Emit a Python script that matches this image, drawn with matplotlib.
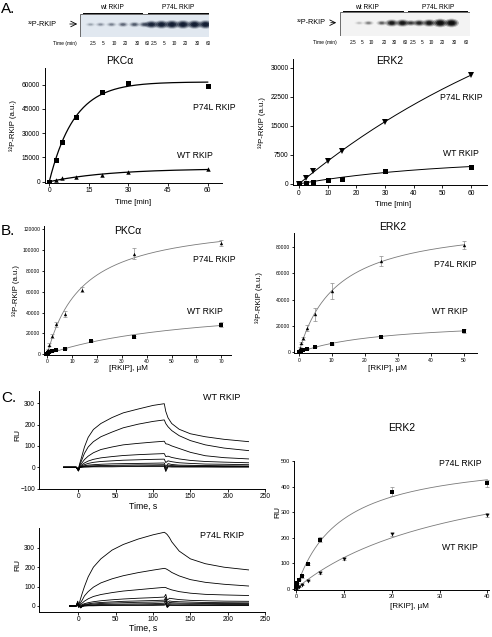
import numpy as np
import matplotlib.pyplot as plt
from matplotlib.patches import Ellipse, Rectangle

plt.rcParams['font.family'] = ['Liberation Sans', 'DejaVu Sans']

W, H = 492, 637

# ---------------- data ----------------
gel_lanes = ['2.5', '5', '10', '20', '30', '60']
pkc_gel_wt = [0.15, 0.2, 0.25, 0.35, 0.4, 0.45]
pkc_gel_p74l = [0.85, 0.95, 1.0, 1.0, 1.0, 1.0]
erk_gel_wt = [0.0, 0.1, 0.25, 0.35, 0.75, 0.8]
erk_gel_p74l = [0.5, 0.65, 0.8, 1.0, 1.0, 0.0]

# A: time course
time_min = [0, 2.5, 5, 10, 20, 30, 60]
pkc_p74l = [0, 13400, 24300, 39700, 55400, 61100, 59100]
pkc_wt = [0, 1200, 2100, 3100, 4100, 6000, 7650]
erk_time = [0, 2.5, 5, 10, 15, 30, 60]
erk_p74l = [0, 1500, 3250, 5970, 8450, 16050, 28150]
erk_wt = [0, 300, 600, 1020, 1360, 3400, 4350]

# B: concentration dependence
bpkc_p74l_c = [0, 0.22, 0.44, 0.875, 1.75, 3.5, 7, 14, 35, 70]
bpkc_p74l_v = [0, 2500, 4500, 9000, 17500, 28700, 38600, 62000, 96500, 106500]
bpkc_p74l_e = [0, 0, 500, 1500, 2000, 2500, 3000, 2800, 5500, 2800]
bpkc_wt_c = [0, 0.44, 0.875, 1.75, 3.5, 7, 17.5, 35, 70]
bpkc_wt_v = [0, 1200, 2200, 3000, 4200, 5500, 12500, 16500, 28500]
bpkc_wt_e = [0, 0, 0, 300, 400, 500, 800, 1000, 2800]

berk_p74l_c = [0, 0.156, 0.3125, 0.625, 1.25, 2.5, 5, 10, 25, 50]
berk_p74l_v = [0, 2000, 3500, 6900, 10700, 18800, 28800, 46400, 69300, 81000]
berk_p74l_e = [0, 0, 500, 800, 1000, 2300, 4800, 6300, 3800, 3000]
berk_wt_c = [0, 0.625, 1.25, 2.5, 5, 10, 25, 50]
berk_wt_v = [0, 1200, 1800, 2800, 4400, 6200, 11900, 16500]
berk_wt_e = [0, 0, 0, 300, 400, 500, 700, 1500]

# C: SPR sensorgrams (RU read at the listed times)
sg_t_wt = [-20, -3, 0, 1.5, 4, 8, 13, 20, 30, 45, 60, 80, 100, 115, 117, 120, 125, 135, 150, 170, 195, 228]
sg_wt = [
    [0, 0, -8, 15, 45, 95, 140, 177, 205, 233, 255, 273, 290, 298, 262, 232, 205, 178, 157, 143, 131, 120],
    [0, 0, -8, 10, 30, 65, 95, 120, 143, 165, 185, 202, 215, 222, 205, 190, 172, 148, 125, 105, 90, 78],
    [0, 0, -10, 6, 17, 36, 52, 68, 83, 95, 105, 112, 118, 122, 110, 108, 100, 88, 70, 54, 45, 39],
    [0, 0, -12, 3, 10, 20, 29, 37, 44, 50, 55, 59, 62, 64, 50, 52, 46, 39, 32, 27, 24, 21],
    [0, 0, -14, 2, 6, 12, 18, 23, 27, 30, 33, 35, 37, 38, 22, 30, 26, 21, 18, 15, 14, 12],
    [0, 0, -15, 1, 3, 7, 10, 12, 14, 16, 17, 18, 19, 20, 2, 17, 13, 10, 9, 8, 7, 6],
    [0, 0, -16, 0, 2, 4, 6, 7, 8, 9, 10, 11, 11, 12, -6, 10, 8, 6, 5, 5, 4, 4],
    [0, 0, -17, -1, 1, 2, 3, 4, 5, 5, 6, 6, 7, 7, -14, 5, 4, 3, 3, 3, 2, 2],
    [0, 0, -18, -2, 0, 1, 1, 2, 2, 2, 3, 3, 3, 3, -20, 2, 1, 1, 1, 1, 1, 1],
]
sg_t_p74l = [-12, -3, -1, 0, 1.5, 3, 5, 8, 13, 20, 30, 45, 60, 80, 100, 115, 117, 119, 122, 125, 135, 150, 170, 195, 228]
sg_p74l = [
    [0, 0, 8, -4, 20, 40, 65, 100, 150, 200, 243, 288, 317, 345, 367, 380, 375, 368, 352, 331, 283, 243, 218, 200, 186],
    [0, 0, 10, -5, 8, 18, 30, 52, 74, 97, 119, 140, 156, 172, 185, 194, 192, 188, 181, 173, 155, 136, 122, 112, 103],
    [0, 0, 12, -6, 4, 9, 15, 25, 37, 49, 59, 69, 77, 84, 91, 96, 95, 91, 87, 83, 74, 66, 60, 57, 54],
    [0, 0, 15, -6, 2, 4, 7, 12, 17, 22, 27, 32, 36, 40, 43, 46, 60, 30, 40, 38, 33, 29, 27, 25, 24],
    [0, 0, 18, -5, 1, 0, 4, 8, 11, 15, 18, 21, 24, 26, 28, 30, 45, 18, 26, 24, 22, 20, 18, 17, 16],
    [0, 0, 22, -4, 0, -4, 2, 5, 8, 10, 13, 15, 17, 19, 20, 22, 35, 8, 19, 17, 15, 14, 13, 13, 12],
    [0, 0, 25, -3, -2, -7, 0, 3, 5, 6, 8, 9, 10, 11, 12, 14, 25, 0, 12, 11, 10, 9, 9, 8, 8],
    [0, 0, 20, -2, -3, -9, -2, 1, 2, 3, 4, 5, 6, 6, 7, 8, 15, -5, 7, 6, 5, 5, 4, 4, 4],
    [0, 0, 15, -1, -4, -10, -3, 0, 1, 1, 2, 2, 3, 3, 3, 4, 8, -8, 3, 3, 2, 2, 2, 2, 2],
]

# C: ERK2 steady-state binding
cerk_p74l_c = [0, 0.04, 0.08, 0.16, 0.31, 0.63, 1.25, 2.5, 5, 20, 40]
cerk_p74l_v = [0, 3, 7, 12, 22, 35, 48, 97, 193, 380, 413]
cerk_p74l_e = [0, 0, 0, 0, 0, 2, 4, 5, 8, 18, 15]
cerk_wt_c = [0, 0.31, 0.63, 1.25, 2.5, 5, 10, 20, 40]
cerk_wt_v = [0, 4, 8, 15, 32, 62, 118, 213, 288]
cerk_wt_e = [0, 0, 0, 0, 2, 3, 4, 6, 6]


# ---------------- helpers ----------------
def fit_hyperbola(x, y):
    x = np.asarray(x, float); y = np.asarray(y, float)
    best = None
    for k in np.linspace(0.2, 300, 3000):
        f = x / (k + x)
        vmax = f @ y / (f @ f)
        sse = np.sum((y - vmax * f) ** 2)
        if best is None or sse < best[0]:
            best = (sse, vmax, k)
    return best[1], best[2]


def fit_rise(t, y):
    t = np.asarray(t, float); y = np.asarray(y, float)
    best = None
    for k in np.linspace(0.001, 1.0, 3000):
        f = 1 - np.exp(-k * t)
        a = f @ y / (f @ f)
        sse = np.sum((y - a * f) ** 2)
        if best is None or sse < best[0]:
            best = (sse, a, k)
    return best[1], best[2]


def px_axes(x0, y0, x1, y1):
    return fig.add_axes([x0 / W, 1 - y1 / H, (x1 - x0) / W, (y1 - y0) / H])


def ftext(x, y, s, size, **kw):
    kw.setdefault('ha', 'center')
    kw.setdefault('va', 'center')
    fig.text(x / W, 1 - y / H, s, fontsize=size, **kw)


def style(ax, fs, tl=2.2):
    for s in ['top', 'right']:
        ax.spines[s].set_visible(False)
    for s in ['left', 'bottom']:
        ax.spines[s].set_linewidth(0.7)
    ax.tick_params(labelsize=fs, length=tl, width=0.6, pad=1.2)
    ax.patch.set_alpha(0)


def draw_gel(box, lane_x, wt, p74l, bg, band_col, band_y):
    x0, y0, x1, y1 = box
    ax = px_axes(x0, y0, x1, y1)
    ax.set_xlim(x0, x1); ax.set_ylim(y1, y0)
    ax.axis('off')
    ax.add_patch(Rectangle((x0, y0), x1 - x0, y1 - y0, fc=bg, ec='#555555', lw=0.6))
    for xs, vals in [(lane_x[:6], wt), (lane_x[6:], p74l)]:
        for x, v in zip(xs, vals):
            if v <= 0:
                continue
            w, h = 8 + 5 * v, 3 + 4.5 * v
            for sc, a in [(1.15, 0.25), (0.9, 0.45), (0.65, 0.75), (0.4, 1.0)]:
                ax.add_patch(Ellipse((x - 2.5, band_y), w * sc, h * sc, fc=band_col, ec='none',
                                     alpha=min(1, v * a)))
    return ax


fig = plt.figure(figsize=(W / 100, H / 100), dpi=100)

# ---------------- A: gels ----------------
pkc_lane_x = [93, 103, 114, 125.5, 137, 147, 154, 164, 174.5, 185.5, 197, 208]
draw_gel((80, 13.5, 209, 37), pkc_lane_x, pkc_gel_wt, pkc_gel_p74l, '#e1e8f0', '#121d33', 24.5)
erk_lane_x = [352.7, 361.7, 371, 384.3, 394.3, 405, 413.3, 421.7, 431.7, 442.7, 454, 466.7]
draw_gel((339.5, 12, 470, 36), erk_lane_x, erk_gel_wt, erk_gel_p74l, '#f3f3f3', '#0d0d0d', 23)

for (lx0, lx1, ly, tx, txt) in [(82.7, 141.7, 12.5, 112, 'wt RKIP'), (148, 208, 12.5, 178, 'P74L RKIP'),
                                 (342.7, 403.3, 11, 367, 'wt RKIP'), (408.3, 466.7, 11, 438, 'P74L RKIP')]:
    fig.add_artist(plt.Line2D([lx0 / W, lx1 / W], [1 - ly / H, 1 - ly / H], color='black', lw=0.7))
    ftext(tx, 7.3, txt, 4.8)

for x, lab in zip(pkc_lane_x, gel_lanes * 2):
    ftext(x, 43.3, lab, 3.4)
for x, lab in zip(erk_lane_x, gel_lanes * 2):
    ftext(x, 42.7, lab, 3.4)
ftext(65, 43.3, 'Time (min)', 3.6)
ftext(325, 42.7, 'Time (min)', 3.6)

ftext(42, 24, '³²P-RKIP', 5.2)
fig.add_artist(plt.Annotation('', xy=(80 / W, 1 - 24 / H), xytext=(67 / W, 1 - 24 / H),
                              xycoords='figure fraction', arrowprops=dict(arrowstyle='->', lw=0.6)))
ftext(311, 22.7, '³²P-RKIP', 5.2)
fig.add_artist(plt.Annotation('', xy=(339 / W, 1 - 22.7 / H), xytext=(328 / W, 1 - 22.7 / H),
                              xycoords='figure fraction', arrowprops=dict(arrowstyle='->', lw=0.6)))

# ---------------- A: time courses ----------------
ax = px_axes(45, 68.3, 221.7, 182.7)
style(ax, 4.8)
tt = np.linspace(0, 60, 200)
for y, m, ms in [(pkc_p74l, 's', 3.6), (pkc_wt, '^', 3.2)]:
    a, k = fit_rise(time_min, y)
    ax.plot(tt, a * (1 - np.exp(-k * tt)), color='black', lw=0.9)
    ax.plot(time_min, y, m, color='black', ms=ms, mew=0)
ax.set_xlim(-1.6, 65.3); ax.set_ylim(-600, 70000)
ax.set_xticks([0, 15, 30, 45, 60]); ax.set_yticks([0, 15000, 30000, 45000, 60000])
ftext(120, 61, 'PKCα', 7.5)
ftext(214, 107, 'P74L RKIP', 6.2)
ftext(195, 155, 'WT RKIP', 6.2)
ftext(133, 203, 'Time [min]', 5.6)
ftext(13, 125, '³²P-RKIP (a.u.)', 5.6, rotation=90)

ax = px_axes(293.3, 59, 486.7, 185)
style(ax, 4.8)
for y, m, ms in [(erk_p74l, 'v', 3.8), (erk_wt, 's', 3.6)]:
    a, k = fit_rise(erk_time, y)
    ax.plot(tt, a * (1 - np.exp(-k * tt)), color='black', lw=0.7)
    ax.plot(erk_time, y, m, color='black', ms=ms, mew=0)
ax.set_xlim(-2, 65.5); ax.set_ylim(-300, 32300)
ax.set_xticks(range(0, 61, 10)); ax.set_yticks([0, 7500, 15000, 22500, 30000])
ftext(390, 61, 'ERK2', 7.5)
ftext(461, 97, 'P74L RKIP', 6.2)
ftext(461, 153, 'WT RKIP', 6.2)
ftext(393, 205, 'Time [min]', 5.6)
ftext(262, 122, '³²P-RKIP (a.u.)', 5.6, rotation=90)


# ---------------- B ----------------
def conc_panel(rect, xlim, ylim, xt, yt, series, fs, ms):
    ax = px_axes(*rect)
    style(ax, fs, tl=1.8)
    for c, v, e, m in series:
        vmax, k = fit_hyperbola(c, v)
        xx = np.linspace(0, max(c), 200)
        ax.plot(xx, vmax * xx / (k + xx), color='#7a7a7a', lw=0.6)
        ax.errorbar(c, v, yerr=e, fmt='none', ecolor='#8a8a8a', elinewidth=0.5, capsize=1.5, capthick=0.5)
        ax.plot(c, v, m, color='black', ms=ms, mew=0)
    ax.set_xlim(*xlim); ax.set_ylim(*ylim)
    ax.set_xticks(xt); ax.set_yticks(yt)
    return ax


conc_panel((44.3, 226.2, 231.3, 355.3), (-1.2, 74), (-1000, 122700), range(0, 71, 10), range(0, 120001, 20000),
           [(bpkc_p74l_c, bpkc_p74l_v, bpkc_p74l_e, '^'), (bpkc_wt_c, bpkc_wt_v, bpkc_wt_e, 's')], 3.6, 2.4)
ftext(128, 231, 'PKCα', 7.5)
ftext(214, 260, 'P74L RKIP', 6.2)
ftext(205, 311, 'WT RKIP', 6.2)
ftext(128, 369, '[RKIP], µM', 5.8)
ftext(16, 290, '³²P-RKIP (a.u.)', 5.6, rotation=90)

conc_panel((294.3, 233.3, 476.7, 353.4), (-1.4, 54), (-700, 90000), range(0, 51, 10), range(0, 80001, 20000),
           [(berk_p74l_c, berk_p74l_v, berk_p74l_e, '^'), (berk_wt_c, berk_wt_v, berk_wt_e, 's')], 3.6, 2.4)
ftext(393, 227, 'ERK2', 7.5)
ftext(455, 264, 'P74L RKIP', 6.2)
ftext(450, 312, 'WT RKIP', 6.2)
ftext(387, 368, '[RKIP], µM', 5.8)
ftext(259, 297, '³²P-RKIP (a.u.)', 5.6, rotation=90)

# ---------------- C: sensorgrams ----------------
for rect, ylim, yt, tgrid, curves, lab, laby, xly in [
        ((39.3, 390.9, 265, 489), (-102, 358), [-100, 0, 100, 200, 300], sg_t_wt, sg_wt, 'WT RKIP', 398, 506),
        ((39.3, 528.4, 265, 612), (-31, 400), [0, 100, 200, 300], sg_t_p74l, sg_p74l, 'P74L RKIP', 535, 628)]:
    ax = px_axes(*rect)
    style(ax, 4.8, tl=1.8)
    for c in curves:
        ax.plot(tgrid, c, color='black', lw=0.6)
    ax.set_xlim(-52.5, 250); ax.set_ylim(*ylim)
    ax.set_xticks([0, 50, 100, 150, 200, 250]); ax.set_yticks(yt)
    ftext(222, laby, lab, 6.5)
    ftext(143, xly, 'Time, s', 6.3)
    ftext(18, (rect[1] + rect[3]) / 2 - 5, 'RU', 6, rotation=90)

ax = conc_panel((294.3, 461.2, 489.3, 589.5), (-0.35, 40.4), (-3, 500), range(0, 41, 10), range(0, 501, 100),
                [(cerk_p74l_c, cerk_p74l_v, cerk_p74l_e, 's'), (cerk_wt_c, cerk_wt_v, cerk_wt_e, 'v')], 4.0, 2.8)
ftext(402, 428, 'ERK2', 7.5)
ftext(460, 464, 'P74L RKIP', 6.2)
ftext(460, 548, 'WT RKIP', 6.2)
ftext(409, 607, '[RKIP], µM', 5.8)
ftext(278, 512, 'RU', 6, rotation=90)

# panel letters
ftext(1, 9, 'A.', 11, ha='left')
ftext(1, 231, 'B.', 11, ha='left')
ftext(1, 398, 'C.', 11, ha='left')

fig.savefig('out.png', dpi=100)
